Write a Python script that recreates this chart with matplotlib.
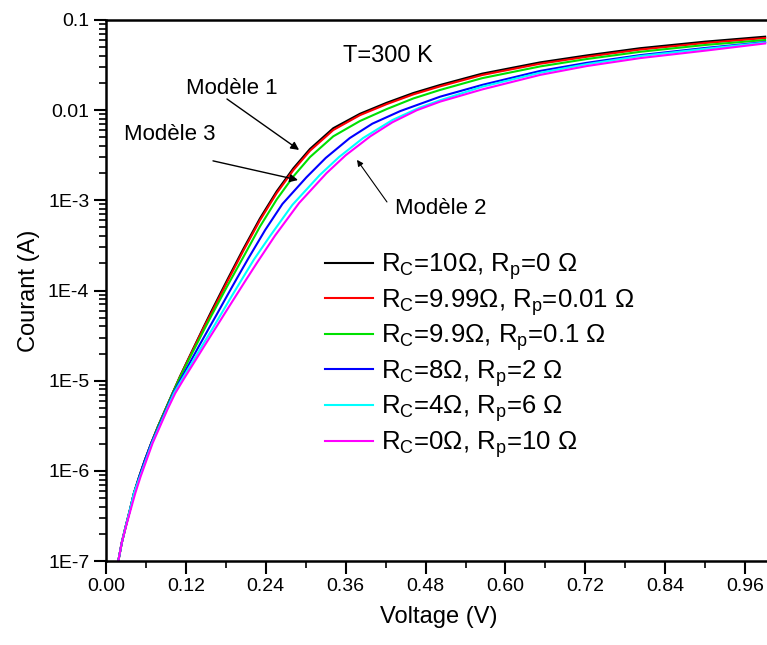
import numpy as np
import matplotlib
matplotlib.use('Agg')
import matplotlib.pyplot as plt
from matplotlib.ticker import FixedLocator, FuncFormatter, NullFormatter

plt.rcParams['font.family'] = ['Liberation Sans', 'DejaVu Sans']
plt.rcParams['mathtext.fontset'] = 'custom'
plt.rcParams['mathtext.rm'] = 'Liberation Sans'

# values: voltage (V) and log10 of the current (A)
V_black = [0.0185, 0.0236, 0.0296, 0.036, 0.042, 0.050, 0.0586, 0.068, 0.078, 0.089, 0.100,
           0.111, 0.123, 0.135, 0.147, 0.159, 0.171, 0.1837, 0.2062, 0.2313, 0.2564, 0.2814,
           0.3064, 0.3414, 0.3815, 0.4216, 0.4616, 0.5017, 0.565, 0.652, 0.722, 0.802, 0.90, 0.99]
logI_black = [-7.0, -6.80, -6.617, -6.432, -6.247, -6.063, -5.878, -5.693, -5.509, -5.324, -5.139,
              -4.955, -4.769, -4.584, -4.40, -4.22, -4.045, -3.86, -3.54, -3.20, -2.90, -2.645,
              -2.43, -2.20, -2.04, -1.918, -1.81, -1.721, -1.595, -1.47, -1.393, -1.313, -1.24, -1.185]

V_red = V_black
logI_red = [-7.0, -6.80, -6.617, -6.432, -6.247, -6.063, -5.878, -5.693, -5.509, -5.324, -5.139,
            -4.958, -4.774, -4.592, -4.41, -4.24, -4.065, -3.88, -3.56, -3.22, -2.92, -2.665,
            -2.45, -2.22, -2.055, -1.933, -1.825, -1.736, -1.61, -1.485, -1.408, -1.328, -1.255, -1.20]

V_green = V_black
logI_green = [-7.0, -6.80, -6.617, -6.432, -6.247, -6.063, -5.878, -5.693, -5.509, -5.324, -5.139,
              -4.965, -4.789, -4.614, -4.44, -4.27, -4.105, -3.93, -3.63, -3.29, -2.99, -2.735,
              -2.52, -2.29, -2.12, -1.988, -1.87, -1.776, -1.645, -1.515, -1.433, -1.353, -1.277, -1.222]

V_blue = [0.0185, 0.0236, 0.0296, 0.036, 0.042, 0.050, 0.0586, 0.068, 0.079, 0.090, 0.101,
          0.113, 0.126, 0.139, 0.156, 0.166, 0.181, 0.197, 0.2137, 0.239, 0.265, 0.301,
          0.33, 0.366, 0.40, 0.442, 0.502, 0.565, 0.652, 0.722, 0.802, 0.90, 0.99]
logI_blue = [-7.0, -6.80, -6.617, -6.432, -6.247, -6.063, -5.878, -5.693, -5.509, -5.324, -5.139,
             -4.975, -4.80, -4.625, -4.40, -4.27, -4.07, -3.86, -3.645, -3.33, -3.04, -2.745,
             -2.53, -2.31, -2.15, -2.01, -1.85, -1.72, -1.565, -1.475, -1.39, -1.31, -1.245]

V_cyan = [0.0185, 0.0236, 0.0296, 0.036, 0.042, 0.051, 0.060, 0.069, 0.080, 0.091, 0.102,
          0.115, 0.130, 0.145, 0.161, 0.175, 0.189, 0.205, 0.2223, 0.246, 0.28, 0.321,
          0.35, 0.386, 0.43, 0.47, 0.502, 0.565, 0.652, 0.722, 0.802, 0.90, 0.99]
logI_cyan = [-7.0, -6.80, -6.617, -6.432, -6.247, -6.063, -5.878, -5.693, -5.509, -5.324, -5.139,
             -4.975, -4.79, -4.605, -4.41, -4.235, -4.06, -3.865, -3.655, -3.40, -3.05, -2.72,
             -2.52, -2.31, -2.11, -1.975, -1.89, -1.74, -1.585, -1.49, -1.40, -1.32, -1.25]

V_magenta = [0.0185, 0.0236, 0.030, 0.037, 0.044, 0.052, 0.061, 0.070, 0.081, 0.092, 0.104,
             0.117, 0.133, 0.149, 0.166, 0.180, 0.192, 0.210, 0.227, 0.254, 0.29, 0.331,
             0.36, 0.397, 0.43, 0.467, 0.502, 0.565, 0.652, 0.722, 0.802, 0.90, 0.99]
logI_magenta = [-7.0, -6.80, -6.617, -6.432, -6.247, -6.063, -5.878, -5.693, -5.509, -5.324, -5.139,
                -4.98, -4.79, -4.60, -4.40, -4.235, -4.095, -3.885, -3.69, -3.39, -3.03, -2.70,
                -2.50, -2.29, -2.135, -2.0, -1.905, -1.77, -1.609, -1.511, -1.423, -1.34, -1.26]

labels = [r'R$_\mathregular{C}$=10$\Omega$, R$_\mathregular{p}$=0 $\Omega$',
          r'R$_\mathregular{C}$=9.99$\Omega$, R$_\mathregular{p}$=0.01 $\Omega$',
          r'R$_\mathregular{C}$=9.9$\Omega$, R$_\mathregular{p}$=0.1 $\Omega$',
          r'R$_\mathregular{C}$=8$\Omega$, R$_\mathregular{p}$=2 $\Omega$',
          r'R$_\mathregular{C}$=4$\Omega$, R$_\mathregular{p}$=6 $\Omega$',
          r'R$_\mathregular{C}$=0$\Omega$, R$_\mathregular{p}$=10 $\Omega$']
colors = ['#000000', '#ff0000', '#00e000', '#0000ff', '#00ffff', '#ff00ff']
series = [(V_black, logI_black), (V_red, logI_red), (V_green, logI_green),
          (V_blue, logI_blue), (V_cyan, logI_cyan), (V_magenta, logI_magenta)]

x_ticks = [0.00, 0.12, 0.24, 0.36, 0.48, 0.60, 0.72, 0.84, 0.96]
y_ticks = [1e-7, 1e-6, 1e-5, 1e-4, 1e-3, 1e-2, 1e-1]
y_ticklabels = ['1E-7', '1E-6', '1E-5', '1E-4', '1E-3', '0.01', '0.1']

fig = plt.figure(figsize=(7.67, 6.45), dpi=100)
ax = fig.add_axes([106/767, 84/645, 665.8/767, 541/645])

for (v, logi), c, lab in zip(series, colors, labels):
    ax.plot(v, 10.0**np.array(logi), color=c, lw=1.5, label=lab)

ax.set_yscale('log')
ax.set_xlim(0, 1.0)
ax.set_ylim(1e-7, 0.1)

ax.xaxis.set_major_locator(FixedLocator(x_ticks))
ax.xaxis.set_minor_locator(FixedLocator([t + 0.06 for t in x_ticks]))
ax.xaxis.set_major_formatter(FuncFormatter(lambda v, p: f'{v:.2f}'))
ax.yaxis.set_major_locator(FixedLocator(y_ticks))
ax.set_yticklabels(y_ticklabels)
minors = [m * d for d in y_ticks[:-1] for m in range(2, 10)]
ax.yaxis.set_minor_locator(FixedLocator(minors))
ax.yaxis.set_minor_formatter(NullFormatter())

ax.tick_params(which='major', direction='out', length=9, width=1.5, labelsize=14, pad=3)
ax.tick_params(which='minor', direction='out', length=5, width=1.2)
for s in ['left', 'bottom', 'top']:
    ax.spines[s].set_linewidth(1.8)
ax.spines['right'].set_visible(False)

ax.set_xlabel('Voltage (V)', fontsize=17, labelpad=8)
ax.set_ylabel('Courant (A)', fontsize=17, labelpad=6)

ax.text(0.4236, 0.0399, 'T=300 K', fontsize=17, ha='center', va='center')

ax.text(0.1892, 0.0176, 'Modèle 1', fontsize=16, ha='center', va='center')
ax.annotate('', xy=(0.290, 3.62e-3), xytext=(0.1817, 0.0133),
            arrowprops=dict(arrowstyle='-|>', color='black', lw=1.0, mutation_scale=12,
                            shrinkA=0, shrinkB=0))
ax.text(0.0961, 5.31e-3, 'Modèle 3', fontsize=16, ha='center', va='center')
ax.annotate('', xy=(0.2884, 1.68e-3), xytext=(0.1607, 2.74e-3),
            arrowprops=dict(arrowstyle='-|>', color='black', lw=1.0, mutation_scale=12,
                            shrinkA=0, shrinkB=0))
ax.text(0.503, 8.03e-4, 'Modèle 2', fontsize=16, ha='center', va='center')
ax.annotate('', xy=(0.377, 2.81e-3), xytext=(0.422, 9.59e-4),
            arrowprops=dict(arrowstyle='-|>', color='black', lw=0.8, mutation_scale=9,
                            shrinkA=0, shrinkB=0))

ax.legend(loc='upper left', bbox_to_anchor=(325/767, 1 - 251/645), bbox_transform=fig.transFigure,
          frameon=False, fontsize=18.5, handlelength=1.85, handletextpad=0.32, labelspacing=0.18,
          borderpad=0, borderaxespad=0)

fig.savefig('out.png', dpi=100)
